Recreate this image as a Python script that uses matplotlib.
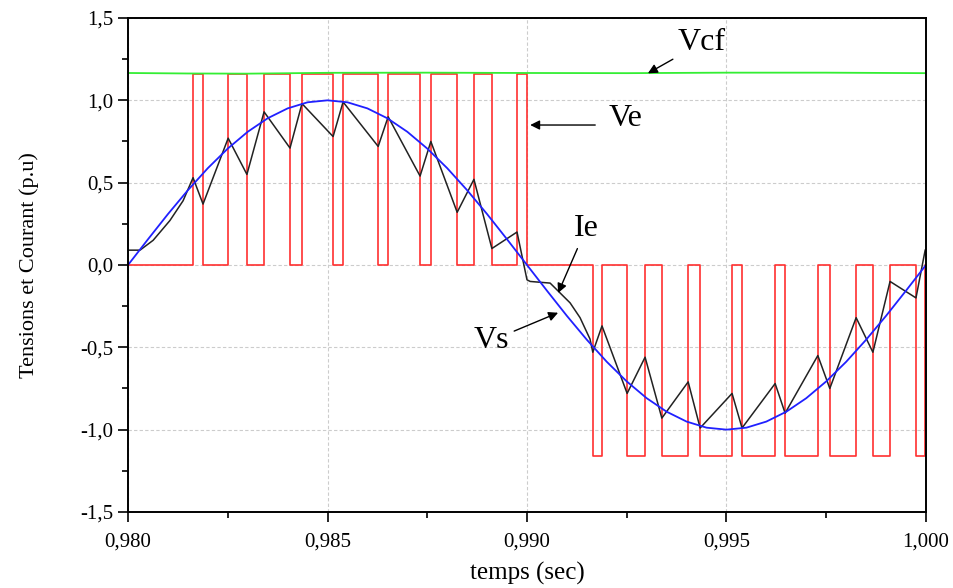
"""Tensions et courant de l'onduleur sur une periode (0,980 - 1,000 s)."""

import numpy as np
import matplotlib
matplotlib.use("Agg")
import matplotlib.pyplot as plt

plt.rcParams['font.family'] = ['Liberation Serif', 'DejaVu Serif']

# Ve : tension MLI (instants de commutation et niveaux apres chaque instant)
ve_t = [0.98000, 0.98163, 0.98188, 0.98251, 0.98298, 0.98341, 0.98406, 0.98436,
        0.98514, 0.98539, 0.98627, 0.98652, 0.98732, 0.98759, 0.98825, 0.98867,
        0.98912, 0.98975, 0.99000,
        0.99165, 0.99188, 0.99251, 0.99296, 0.99338, 0.99404, 0.99434, 0.99514,
        0.99539, 0.99622, 0.99647, 0.99729, 0.99759, 0.99825, 0.99867, 0.99910,
        0.99975, 0.99998, 1.00000]
ve_v = [0, 1.16, 0, 1.16, 0, 1.16, 0, 1.16, 0, 1.16, 0, 1.16, 0, 1.16, 0, 1.16,
        0, 1.16, 0,
        -1.16, 0, -1.16, 0, -1.16, 0, -1.16, 0, -1.16, 0, -1.16, 0, -1.16, 0,
        -1.16, 0, -1.16, 0, 0]

# Vs : tension de sortie (echantillons toutes les 0,5 ms)
vs_t = np.linspace(0.980, 1.000, 41)
vs_v = [0.0, 0.156, 0.309, 0.454, 0.588, 0.707, 0.809, 0.891, 0.951, 0.988,
        1.0, 0.988, 0.951, 0.891, 0.809, 0.707, 0.588, 0.454, 0.309, 0.156,
        0.0, -0.156, -0.309, -0.454, -0.588, -0.707, -0.809, -0.891, -0.951, -0.988,
        -1.0, -0.988, -0.951, -0.891, -0.809, -0.707, -0.588, -0.454, -0.309, -0.156,
        0.0]

# Ie : courant
ie_t = [0.98000, 0.98030, 0.98063, 0.98105, 0.98138, 0.98163, 0.98188, 0.98251,
        0.98298, 0.98341, 0.98406, 0.98436, 0.98514, 0.98539, 0.98627, 0.98652,
        0.98732, 0.98759, 0.98825, 0.98867, 0.98912, 0.98975, 0.99000, 0.99008,
        0.99058, 0.99083, 0.99108, 0.99133, 0.99158, 0.99165, 0.99188, 0.99251,
        0.99296, 0.99338, 0.99404, 0.99434, 0.99514, 0.99539, 0.99622, 0.99647,
        0.99729, 0.99759, 0.99825, 0.99867, 0.99910, 0.99975, 0.99998]
ie_v = [0.09, 0.09, 0.15, 0.27, 0.39, 0.53, 0.37, 0.77,
        0.55, 0.93, 0.71, 0.98, 0.78, 0.99, 0.72, 0.90,
        0.54, 0.75, 0.32, 0.52, 0.10, 0.20, -0.09, -0.10,
        -0.11, -0.17, -0.23, -0.32, -0.45, -0.53, -0.37, -0.78,
        -0.56, -0.93, -0.71, -0.99, -0.78, -0.99, -0.72, -0.90,
        -0.55, -0.75, -0.32, -0.53, -0.10, -0.20, 0.09]

# Vcf : tension du condensateur
vcf_t = [0.980, 0.9815, 0.983, 0.985, 0.9875, 0.990, 0.9925, 0.995, 0.9975, 1.000]
vcf_v = [1.166, 1.163, 1.162, 1.167, 1.168, 1.166, 1.165, 1.168, 1.168, 1.165]

xticks = [0.980, 0.985, 0.990, 0.995, 1.000]
xtick_labels = ["0,980", "0,985", "0,990", "0,995", "1,000"]
yticks = [-1.5, -1.0, -0.5, 0.0, 0.5, 1.0, 1.5]
ytick_labels = ["-1,5", "-1,0", "-0,5", "0,0", "0,5", "1,0", "1,5"]

fig = plt.figure(figsize=(9.54, 5.88), dpi=100)
ax = fig.add_axes([0.1342, 0.1293, 0.8364, 0.8401])

ax.grid(True, linestyle=(0, (3, 2)), color='#cccccc', linewidth=0.8)
ax.set_axisbelow(True)

ax.step(ve_t, ve_v, where='post', color='#ff3030', linewidth=1.2)
ax.plot(vcf_t, vcf_v, color='#33ee33', linewidth=1.3)
ax.plot(ie_t, ie_v, color='#222222', linewidth=1.1)
ax.plot(vs_t, vs_v, color='#2020ff', linewidth=1.3)

ax.set_xlim(0.980, 1.000)
ax.set_ylim(-1.5, 1.5)
ax.set_xticks(xticks)
ax.set_xticklabels(xtick_labels)
ax.set_yticks(yticks)
ax.set_yticklabels(ytick_labels)
ax.set_xticks([0.9825, 0.9875, 0.9925, 0.9975], minor=True)
ax.set_yticks([-1.25, -0.75, -0.25, 0.25, 0.75, 1.25], minor=True)
ax.tick_params(which='major', direction='out', length=7, width=1.2, labelsize=15)
ax.tick_params(axis='x', which='major', pad=8)
ax.tick_params(which='minor', direction='out', length=4, width=1.2)
for s in ax.spines.values():
    s.set_linewidth(1.4)

ax.set_xlabel("temps (sec)", fontsize=18, labelpad=7)
ax.set_ylabel("Tensions et Courant (p.u)", fontsize=16, labelpad=30)

# Etiquettes avec fleches
arrow = dict(arrowstyle='-|>', color='black', lw=1.0, mutation_scale=14,
             shrinkA=2, shrinkB=0)
ax.annotate("Vcf", xy=(0.99303, 1.164), xytext=(0.99439, 1.35), fontsize=23,
            ha='center', va='center', arrowprops=arrow)
ax.annotate("", xy=(0.99008, 0.85), xytext=(0.99178, 0.85), arrowprops=arrow)
ax.text(0.99246, 0.89, "Ve", fontsize=23, ha='center', va='center')
ax.annotate("Ie", xy=(0.99078, -0.17), xytext=(0.99148, 0.22), fontsize=23,
            ha='center', va='center', arrowprops=arrow)
ax.annotate("Vs", xy=(0.99078, -0.29), xytext=(0.98910, -0.46), fontsize=23,
            ha='center', va='center', arrowprops=arrow)

fig.savefig("out.png", dpi=100)
